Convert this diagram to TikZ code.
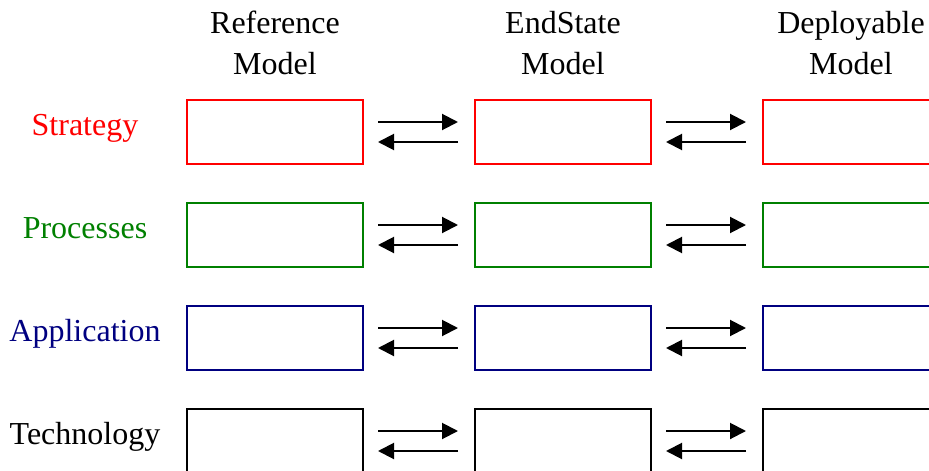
\documentclass[tikz,border=0pt]{standalone}
\usepackage{fontspec}
\setmainfont{Liberation Serif}
\usetikzlibrary{arrows.meta}
\definecolor{stratred}{RGB}{255,0,0}
\definecolor{procgreen}{RGB}{0,128,0}
\definecolor{appnavy}{RGB}{0,0,128}
\tikzset{
  layerbox/.style={draw, line width=2pt, minimum width=176pt, minimum height=64pt,
    inner sep=0pt, outer sep=0pt},
  flow/.style={line width=2pt, -{Triangle[length=16pt,width=16pt]}},
  bigtext/.style={font=\fontsize{32}{41}\selectfont, inner sep=0pt},
  header/.style={bigtext, align=center, anchor=base},
  rowlabel/.style={bigtext, anchor=base},
}
\begin{document}
\begin{tikzpicture}[x=1pt,y=-1pt]
\useasboundingbox (0,0) rectangle (929,471);
\clip (0,0) rectangle (929,471);

% column headers (base anchor sits on the second line)
\node[header] (h1) at (275,74) {Reference\\Model};
\node[header] (h2) at (563,74) {EndState\\Model};
\node[header] (h3) at (851,74) {Deployable\\Model};

% layers: row index / colour / label
\foreach \r/\col/\lab in {0/stratred/Strategy, 1/procgreen/Processes, 2/appnavy/Application, 3/black/Technology}{
  \pgfmathsetmacro{\cy}{132+103*\r}
  \node[rowlabel, text=\col] (lab\r) at (85,\cy+3) {\lab};
  \node[layerbox, draw=\col] (b\r a) at (275,\cy) {};
  \node[layerbox, draw=\col] (b\r b) at (563,\cy) {};
  \node[layerbox, draw=\col] (b\r c) at (851,\cy) {};
  % two-way exchange between neighbouring models
  \draw[flow] ([shift={(15pt,10pt)}]b\r a.east) -- ([shift={(-17pt,10pt)}]b\r b.west);
  \draw[flow] ([shift={(-17pt,-10pt)}]b\r b.west) -- ([shift={(15pt,-10pt)}]b\r a.east);
  \draw[flow] ([shift={(15pt,10pt)}]b\r b.east) -- ([shift={(-17pt,10pt)}]b\r c.west);
  \draw[flow] ([shift={(-17pt,-10pt)}]b\r c.west) -- ([shift={(15pt,-10pt)}]b\r b.east);
}
\end{tikzpicture}
\end{document}
